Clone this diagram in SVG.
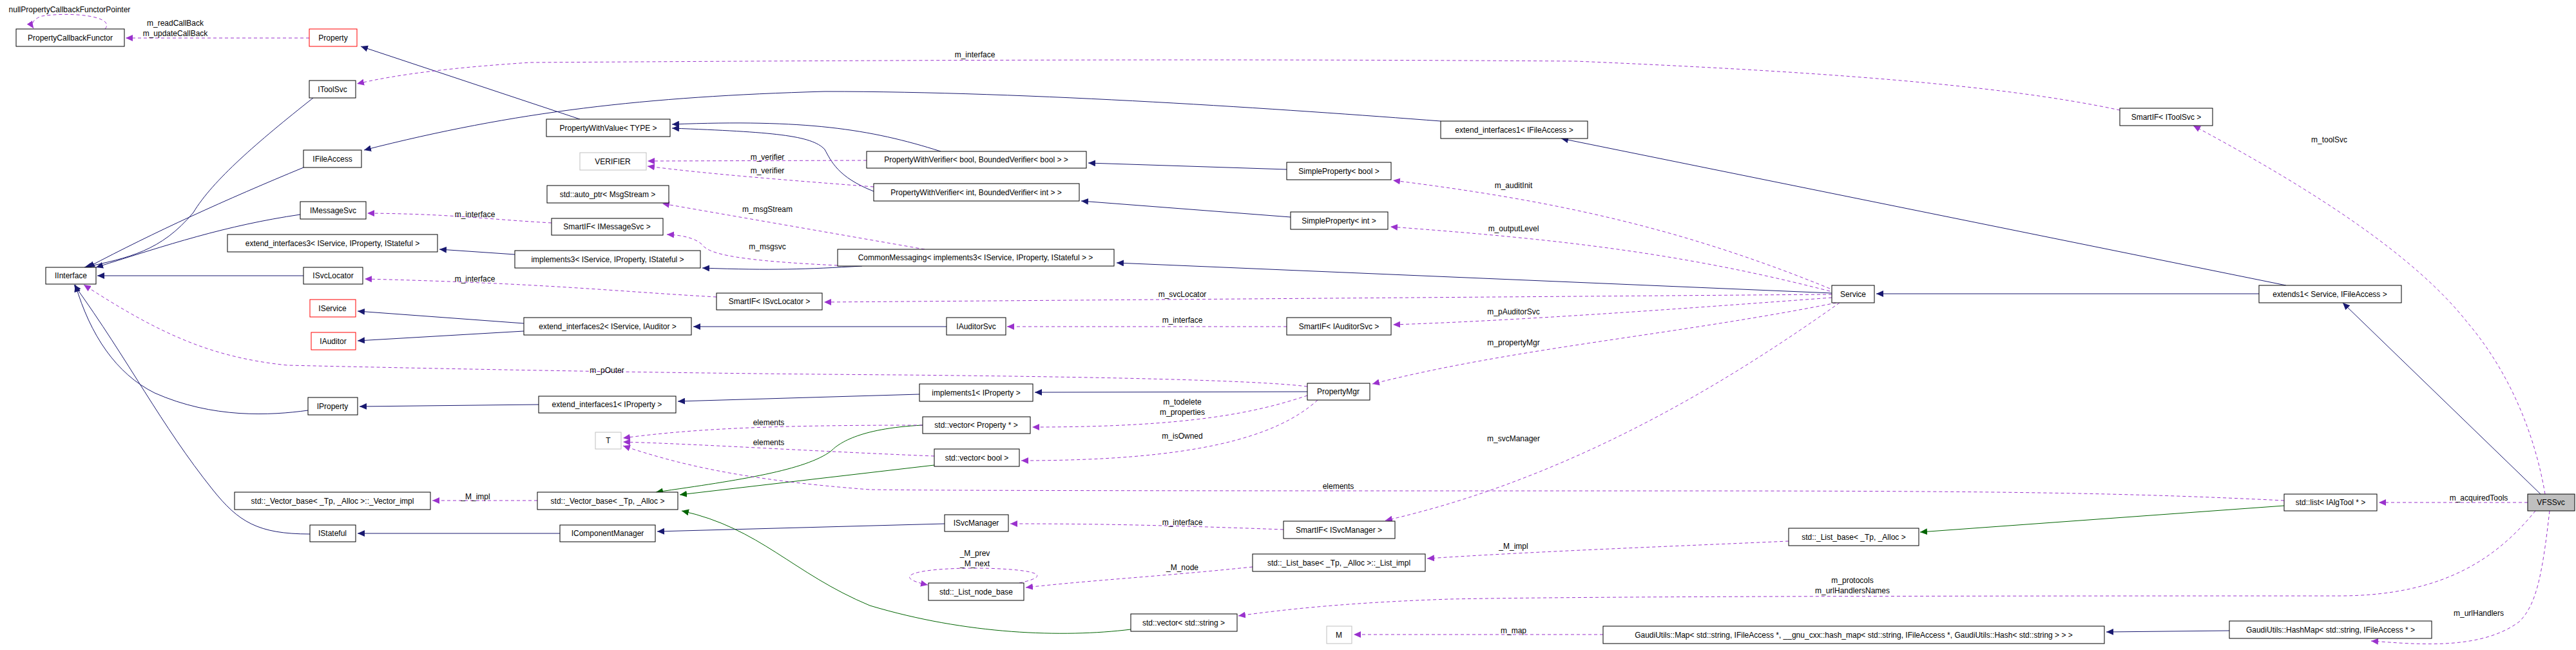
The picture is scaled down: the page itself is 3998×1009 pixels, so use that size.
<svg xmlns="http://www.w3.org/2000/svg" width="3998" height="1009" viewBox="0 0 3998 1009">
<style>
text{font-family:"Liberation Sans",Arial,sans-serif;font-size:12px;fill:#000;text-anchor:middle}
.n rect{fill:#fff;stroke:#000;stroke-width:1}
.r rect{stroke:#f00}
.g rect{stroke:#bfbfbf}
.b{fill:none;stroke:#191970;stroke-width:1}
.gr{fill:none;stroke:#006400;stroke-width:1}
.p{fill:none;stroke:#9a32cd;stroke-width:1;stroke-dasharray:5,4}
</style>
<defs>
<marker id="ab" markerUnits="userSpaceOnUse" markerWidth="12" markerHeight="10" refX="11" refY="5" orient="auto"><path d="M0,0L11,5L0,10z" fill="#191970"/></marker>
<marker id="ag" markerUnits="userSpaceOnUse" markerWidth="12" markerHeight="10" refX="11" refY="5" orient="auto"><path d="M0,0L11,5L0,10z" fill="#006400"/></marker>
<marker id="ap" markerUnits="userSpaceOnUse" markerWidth="12" markerHeight="10" refX="11" refY="5" orient="auto"><path d="M0,0L11,5L0,10z" fill="#9a32cd"/></marker>
</defs>
<rect width="3998" height="1009" fill="#fff"/>
<g id="connectors">
<path class="b" marker-end="url(#ab)" d="M900,185L560,72"/>
<path class="b" marker-end="url(#ab)" d="M486,152C400,220 330,280 300,330C250,390 200,400 131,415"/>
<path class="b" marker-end="url(#ab)" d="M471,260C350,310 240,360 136,415"/>
<path class="b" marker-end="url(#ab)" d="M466,333C350,350 260,380 149,415"/>
<path class="b" marker-end="url(#ab)" d="M471,428L151,428"/>
<path class="b" marker-end="url(#ab)" d="M478,637C420,645 330,650 240,610C180,580 140,520 117,442"/>
<path class="b" marker-end="url(#ab)" d="M481,829C400,829 370,810 330,760C250,660 200,560 115,442"/>
<path class="b" marker-end="url(#ab)" d="M2236,188C2000,170 1600,142 1280,142C1000,150 800,173 565,233"/>
<path class="b" marker-end="url(#ab)" d="M1460,235C1350,200 1250,185 1043,193"/>
<path class="b" marker-end="url(#ab)" d="M1356,297C1300,275 1290,250 1280,232C1260,210 1200,205 1043,199"/>
<path class="b" marker-end="url(#ab)" d="M1997,263L1689,253"/>
<path class="b" marker-end="url(#ab)" d="M2003,337L1678,312"/>
<path class="b" marker-end="url(#ab)" d="M799,395L682,387"/>
<path class="b" marker-end="url(#ab)" d="M1338,413C1250,418 1200,420 1090,416"/>
<path class="b" marker-end="url(#ab)" d="M2843,455L1733,408"/>
<path class="b" marker-end="url(#ab)" d="M813,502L555,483"/>
<path class="b" marker-end="url(#ab)" d="M813,514L555,529"/>
<path class="b" marker-end="url(#ab)" d="M1469,507L1076,507"/>
<path class="b" marker-end="url(#ab)" d="M836,628L558,631"/>
<path class="b" marker-end="url(#ab)" d="M1427,612L1052,623"/>
<path class="b" marker-end="url(#ab)" d="M2029,608L1606,609"/>
<path class="b" marker-end="url(#ab)" d="M869,828L555,828"/>
<path class="b" marker-end="url(#ab)" d="M1466,813L1020,825"/>
<path class="b" marker-end="url(#ab)" d="M3506,456L2912,456"/>
<path class="b" marker-end="url(#ab)" d="M3548,443L2423,215"/>
<path class="b" marker-end="url(#ab)" d="M3943,767L3636,470"/>
<path class="b" marker-end="url(#ab)" d="M3460,979L3269,981"/>
<path class="gr" marker-end="url(#ag)" d="M1432,660C1330,665 1300,690 1290,700C1250,730 1150,745 1018,764"/>
<path class="gr" marker-end="url(#ag)" d="M1450,722L1055,768"/>
<path class="gr" marker-end="url(#ag)" d="M1755,977C1650,990 1500,985 1350,940C1230,890 1180,820 1058,793"/>
<path class="gr" marker-end="url(#ag)" d="M3545,785L2980,826"/>
<path class="p" marker-end="url(#ap)" d="M163,45C180,25 110,18 65,25C50,30 48,38 52,44"/>
<path class="p" marker-end="url(#ap)" d="M480,59L195,59"/>
<path class="p" marker-end="url(#ap)" d="M3290,171C3100,130 2800,110 2446,95C2000,92 1600,92 823,97C700,105 620,115 554,130"/>
<path class="p" marker-end="url(#ap)" d="M3950,767C3930,650 3880,560 3829,500C3750,400 3600,300 3404,195"/>
<path class="p" marker-end="url(#ap)" d="M1345,249L1005,250"/>
<path class="p" marker-end="url(#ap)" d="M1356,290C1200,278 1100,270 1005,258"/>
<path class="p" marker-end="url(#ap)" d="M1435,387L1028,316"/>
<path class="p" marker-end="url(#ap)" d="M1300,412C1150,405 1100,395 1090,380C1080,370 1060,365 1035,364"/>
<path class="p" marker-end="url(#ap)" d="M856,346C750,340 700,332 570,331"/>
<path class="p" marker-end="url(#ap)" d="M1112,461C950,452 850,440 566,433"/>
<path class="p" marker-end="url(#ap)" d="M2843,457L1279,469"/>
<path class="p" marker-end="url(#ap)" d="M2840,448C2600,350 2400,310 2162,280"/>
<path class="p" marker-end="url(#ap)" d="M2840,452C2600,390 2400,370 2158,352"/>
<path class="p" marker-end="url(#ap)" d="M2843,462C2600,480 2350,498 2162,504"/>
<path class="p" marker-end="url(#ap)" d="M1997,507L1563,507"/>
<path class="p" marker-end="url(#ap)" d="M2850,470C2600,520 2350,540 2130,596"/>
<path class="p" marker-end="url(#ap)" d="M2855,470C2700,580 2450,740 2150,808"/>
<path class="p" marker-end="url(#ap)" d="M1992,822C1800,815 1700,813 1568,813"/>
<path class="p" marker-end="url(#ap)" d="M2029,600C1950,590 1700,585 1400,582C1100,580 800,575 446,567C330,555 250,520 130,442"/>
<path class="p" marker-end="url(#ap)" d="M2029,614C1950,640 1850,663 1602,663"/>
<path class="p" marker-end="url(#ap)" d="M2045,621C1980,680 1850,715 1585,715"/>
<path class="p" marker-end="url(#ap)" d="M1432,660C1200,660 1080,665 967,680"/>
<path class="p" marker-end="url(#ap)" d="M1450,708C1250,700 1100,690 967,686"/>
<path class="p" marker-end="url(#ap)" d="M3545,777C3300,765 3100,762 2600,762C2000,762 1500,762 1350,760C1150,745 1050,720 967,692"/>
<path class="p" marker-end="url(#ap)" d="M3923,780L3692,780"/>
<path class="p" marker-end="url(#ap)" d="M834,777L671,777"/>
<path class="p" marker-end="url(#ap)" d="M1582,905C1650,890 1580,882 1513,882C1420,882 1380,895 1440,908"/>
<path class="p" marker-end="url(#ap)" d="M1944,880C1800,895 1700,900 1592,912"/>
<path class="p" marker-end="url(#ap)" d="M2776,840C2600,848 2400,855 2215,867"/>
<path class="p" marker-end="url(#ap)" d="M3935,793C3880,860 3800,925 3630,925C3200,925 2500,925 2250,930C2100,935 2000,945 1922,956"/>
<path class="p" marker-end="url(#ap)" d="M3957,793C3945,900 3935,940 3910,965C3850,1010 3750,1000 3680,995"/>
<path class="p" marker-end="url(#ap)" d="M2488,985L2101,985"/>
<text x="108" y="19">nullPropertyCallbackFunctorPointer</text>
<text x="272" y="40">m_readCallBack</text>
<text x="272" y="56">m_updateCallBack</text>
<text x="1513" y="89">m_interface</text>
<text x="1191" y="248">m_verifier</text>
<text x="1191" y="269">m_verifier</text>
<text x="1191" y="329">m_msgStream</text>
<text x="1191" y="387">m_msgsvc</text>
<text x="737" y="337">m_interface</text>
<text x="737" y="437">m_interface</text>
<text x="1835" y="461">m_svcLocator</text>
<text x="1835" y="501">m_interface</text>
<text x="2349" y="292">m_auditInit</text>
<text x="2349" y="359">m_outputLevel</text>
<text x="2349" y="488">m_pAuditorSvc</text>
<text x="2349" y="536">m_propertyMgr</text>
<text x="942" y="579">m_pOuter</text>
<text x="1835" y="628">m_todelete</text>
<text x="1835" y="644">m_properties</text>
<text x="1193" y="660">elements</text>
<text x="1193" y="691">elements</text>
<text x="1835" y="681">m_isOwned</text>
<text x="2349" y="685">m_svcManager</text>
<text x="2077" y="759">elements</text>
<text x="738" y="775">_M_impl</text>
<text x="1835" y="815">m_interface</text>
<text x="2349" y="852">_M_impl</text>
<text x="1513" y="863">_M_prev</text>
<text x="1513" y="879">_M_next</text>
<text x="1835" y="885">_M_node</text>
<text x="2875" y="905">m_protocols</text>
<text x="2875" y="921">m_urlHandlersNames</text>
<text x="2349" y="983">m_map</text>
<text x="3615" y="221">m_toolSvc</text>
<text x="3847" y="777">m_acquiredTools</text>
<text x="3847" y="956">m_urlHandlers</text>
</g>
<g id="PropertyCallbackFunctor" class="n"><rect x="25" y="45" width="168" height="27"/><text x="109" y="63">PropertyCallbackFunctor</text></g>
<g id="Property" class="n r"><rect x="480" y="45" width="74" height="27"/><text x="517" y="63">Property</text></g>
<g id="IToolSvc" class="n"><rect x="480" y="125" width="72" height="27"/><text x="516" y="143">IToolSvc</text></g>
<g id="IFileAccess" class="n"><rect x="471" y="233" width="90" height="27"/><text x="516" y="251">IFileAccess</text></g>
<g id="IMessageSvc" class="n"><rect x="466" y="313" width="102" height="27"/><text x="517" y="331">IMessageSvc</text></g>
<g id="extend_interfaces3" class="n"><rect x="353" y="364" width="326" height="27"/><text x="516" y="382">extend_interfaces3&lt; IService, IProperty, IStateful &gt;</text></g>
<g id="IInterface" class="n"><rect x="71" y="415" width="78" height="26"/><text x="110" y="432">IInterface</text></g>
<g id="ISvcLocator" class="n"><rect x="471" y="415" width="92" height="26"/><text x="517" y="432">ISvcLocator</text></g>
<g id="IService" class="n r"><rect x="481" y="465" width="71" height="27"/><text x="516" y="483">IService</text></g>
<g id="extend_interfaces2" class="n"><rect x="813" y="493" width="260" height="27"/><text x="943" y="511">extend_interfaces2&lt; IService, IAuditor &gt;</text></g>
<g id="IAuditor" class="n r"><rect x="483" y="516" width="69" height="27"/><text x="517" y="534">IAuditor</text></g>
<g id="IProperty" class="n"><rect x="478" y="617" width="77" height="27"/><text x="516" y="635">IProperty</text></g>
<g id="extend_interfaces1_IProperty" class="n"><rect x="836" y="615" width="213" height="26"/><text x="942" y="632">extend_interfaces1&lt; IProperty &gt;</text></g>
<g id="T" class="n g"><rect x="924" y="671" width="40" height="26"/><text x="944" y="688">T</text></g>
<g id="Vector_impl" class="n"><rect x="364" y="764" width="304" height="27"/><text x="516" y="782">std::_Vector_base&lt; _Tp, _Alloc &gt;::_Vector_impl</text></g>
<g id="Vector_base" class="n"><rect x="834" y="764" width="218" height="27"/><text x="943" y="782">std::_Vector_base&lt; _Tp, _Alloc &gt;</text></g>
<g id="IStateful" class="n"><rect x="481" y="815" width="71" height="26"/><text x="516" y="832">IStateful</text></g>
<g id="IComponentManager" class="n"><rect x="869" y="815" width="148" height="26"/><text x="943" y="832">IComponentManager</text></g>
<g id="PropertyWithValue" class="n"><rect x="848" y="185" width="192" height="27"/><text x="944" y="203">PropertyWithValue&lt; TYPE &gt;</text></g>
<g id="VERIFIER" class="n g"><rect x="900" y="237" width="103" height="27"/><text x="951" y="255">VERIFIER</text></g>
<g id="auto_ptr" class="n"><rect x="849" y="288" width="189" height="27"/><text x="943" y="306">std::auto_ptr&lt; MsgStream &gt;</text></g>
<g id="SmartIF_IMessageSvc" class="n"><rect x="856" y="339" width="173" height="26"/><text x="942" y="356">SmartIF&lt; IMessageSvc &gt;</text></g>
<g id="implements3" class="n"><rect x="799" y="389" width="288" height="27"/><text x="943" y="407">implements3&lt; IService, IProperty, IStateful &gt;</text></g>
<g id="PWV_bool" class="n"><rect x="1345" y="235" width="341" height="26"/><text x="1515" y="252">PropertyWithVerifier&lt; bool, BoundedVerifier&lt; bool &gt; &gt;</text></g>
<g id="PWV_int" class="n"><rect x="1356" y="285" width="319" height="27"/><text x="1515" y="303">PropertyWithVerifier&lt; int, BoundedVerifier&lt; int &gt; &gt;</text></g>
<g id="CommonMessaging" class="n"><rect x="1300" y="387" width="429" height="26"/><text x="1514" y="404">CommonMessaging&lt; implements3&lt; IService, IProperty, IStateful &gt; &gt;</text></g>
<g id="SmartIF_ISvcLocator" class="n"><rect x="1112" y="455" width="164" height="26"/><text x="1194" y="472">SmartIF&lt; ISvcLocator &gt;</text></g>
<g id="IAuditorSvc" class="n"><rect x="1469" y="493" width="92" height="27"/><text x="1515" y="511">IAuditorSvc</text></g>
<g id="implements1" class="n"><rect x="1427" y="596" width="176" height="27"/><text x="1515" y="614">implements1&lt; IProperty &gt;</text></g>
<g id="vector_Property" class="n"><rect x="1432" y="647" width="167" height="26"/><text x="1515" y="664">std::vector&lt; Property * &gt;</text></g>
<g id="vector_bool" class="n"><rect x="1450" y="697" width="132" height="27"/><text x="1516" y="715">std::vector&lt; bool &gt;</text></g>
<g id="ISvcManager" class="n"><rect x="1466" y="799" width="99" height="26"/><text x="1515" y="816">ISvcManager</text></g>
<g id="List_node_base" class="n"><rect x="1441" y="905" width="148" height="27"/><text x="1515" y="923">std::_List_node_base</text></g>
<g id="vector_string" class="n"><rect x="1755" y="953" width="165" height="27"/><text x="1837" y="971">std::vector&lt; std::string &gt;</text></g>
<g id="extend_interfaces1_IFileAccess" class="n"><rect x="2236" y="188" width="228" height="27"/><text x="2350" y="206">extend_interfaces1&lt; IFileAccess &gt;</text></g>
<g id="SimpleProperty_bool" class="n"><rect x="1997" y="252" width="162" height="27"/><text x="2078" y="270">SimpleProperty&lt; bool &gt;</text></g>
<g id="SimpleProperty_int" class="n"><rect x="2003" y="329" width="151" height="27"/><text x="2078" y="347">SimpleProperty&lt; int &gt;</text></g>
<g id="Service" class="n"><rect x="2843" y="443" width="66" height="27"/><text x="2876" y="461">Service</text></g>
<g id="SmartIF_IAuditorSvc" class="n"><rect x="1997" y="493" width="162" height="27"/><text x="2078" y="511">SmartIF&lt; IAuditorSvc &gt;</text></g>
<g id="PropertyMgr" class="n"><rect x="2029" y="595" width="97" height="26"/><text x="2077" y="612">PropertyMgr</text></g>
<g id="SmartIF_ISvcManager" class="n"><rect x="1992" y="809" width="173" height="27"/><text x="2078" y="827">SmartIF&lt; ISvcManager &gt;</text></g>
<g id="List_impl" class="n"><rect x="1944" y="860" width="268" height="27"/><text x="2078" y="878">std::_List_base&lt; _Tp, _Alloc &gt;::_List_impl</text></g>
<g id="List_base" class="n"><rect x="2776" y="820" width="202" height="27"/><text x="2877" y="838">std::_List_base&lt; _Tp, _Alloc &gt;</text></g>
<g id="M" class="n g"><rect x="2059" y="972" width="39" height="27"/><text x="2078" y="990">M</text></g>
<g id="GaudiUtils_Map" class="n"><rect x="2488" y="972" width="778" height="27"/><text x="2877" y="990">GaudiUtils::Map&lt; std::string, IFileAccess *, __gnu_cxx::hash_map&lt; std::string, IFileAccess *, GaudiUtils::Hash&lt; std::string &gt; &gt; &gt;</text></g>
<g id="SmartIF_IToolSvc" class="n"><rect x="3290" y="168" width="144" height="27"/><text x="3362" y="186">SmartIF&lt; IToolSvc &gt;</text></g>
<g id="extends1" class="n"><rect x="3506" y="443" width="221" height="27"/><text x="3616" y="461">extends1&lt; Service, IFileAccess &gt;</text></g>
<g id="list_IAlgTool" class="n"><rect x="3545" y="767" width="144" height="26"/><text x="3617" y="784">std::list&lt; IAlgTool * &gt;</text></g>
<g id="VFSSvc" class="n"><rect x="3923" y="767" width="73" height="26" style="fill:#bfbfbf"/><text x="3959" y="784">VFSSvc</text></g>
<g id="GaudiUtils_HashMap" class="n"><rect x="3460" y="964" width="314" height="27"/><text x="3617" y="982">GaudiUtils::HashMap&lt; std::string, IFileAccess * &gt;</text></g>
</svg>
